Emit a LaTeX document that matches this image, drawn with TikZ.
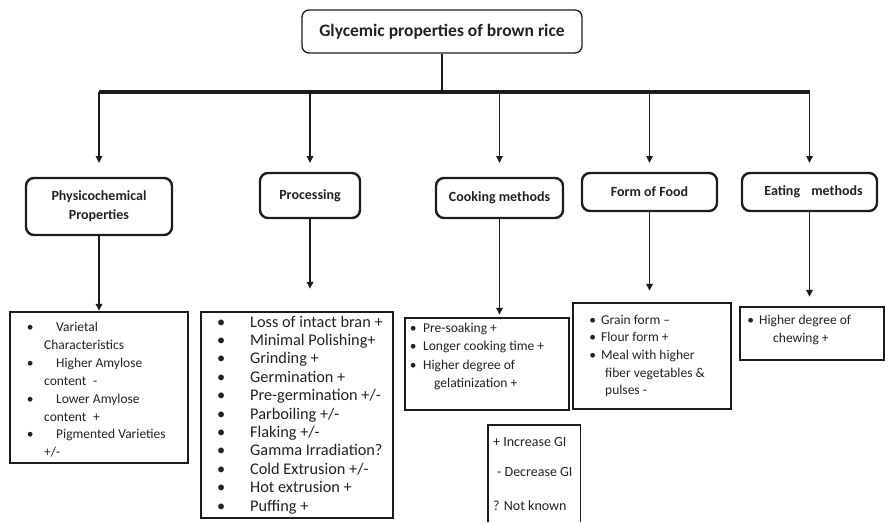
\documentclass[tikz,border=0pt]{standalone}
\usepackage{fontspec}
\setmainfont{Carlito}
\usetikzlibrary{arrows.meta}
\definecolor{ink}{HTML}{1C1C1C}
\definecolor{txt}{HTML}{222222}
% bullet hung to the left of the text start; #1 = gap between bullet and text
\newcommand\hangbullet[1]{\llap{\textbullet\hspace{#1}}}
\begin{document}
\begin{tikzpicture}[x=1pt,y=-1pt,
  every node/.style={inner sep=0pt,text=txt},
  rootbox/.style={draw=ink,line width=1.3pt,rounded corners=7pt,
    minimum width=280pt,minimum height=43pt,
    font=\fontsize{17.5}{21}\selectfont\bfseries},
  catbox/.style={draw=ink,line width=2.4pt,rounded corners=8pt,align=center,
    font=\fontsize{14}{19}\selectfont\bfseries},
  listbox/.style={draw=ink,line width=2.4pt},
  legendline/.style={draw=ink,line width=1.2pt},
  link/.style={draw=ink,line width=1.6pt},
  arr/.style={link,-{Triangle[length=7pt,width=6.5pt]}},
  trunkline/.style={draw=ink,line width=3.4pt},
  lineitem/.style={anchor=base west},
  smalltext/.style={font=\fontsize{13.5}{16}\selectfont},
  largetext/.style={font=\fontsize{16.3}{19}\selectfont},
  legendtext/.style={font=\fontsize{14}{16}\selectfont}
]
\useasboundingbox (0,0) rectangle (890,522);

% ---- root ----
\node[rootbox] (root) at (442,31.5) {Glycemic properties of brown rice};
\coordinate (trunk) at (0,92);
\coordinate (tip) at (0,163);

% ---- categories ----
\node[catbox,minimum width=146pt,minimum height=57pt] (phys) at (99,206.5) {Physicochemical\\Properties};
\node[catbox,minimum width=100pt,minimum height=45pt] (proc) at (310,195.5) {Processing};
\node[catbox,minimum width=127pt,minimum height=40pt] (cook) at (499.5,198) {Cooking methods};
\node[catbox,minimum width=135pt,minimum height=38pt] (form) at (649.5,192) {Form of Food};
\node[catbox,minimum width=135pt,minimum height=38pt,
      text width=127pt,align=center] (eat) at (809.5,192) {\hspace*{8pt}Eating\hspace{0.8em}methods};

% ---- branches from the root ----
\draw[link] (root.south) -- (root.south |- trunk);
\draw[trunkline] (phys.north |- trunk) -- (eat.north |- trunk);
\foreach \n in {phys,proc,cook,form,eat}
  \draw[arr] (\n.north |- trunk) -- (\n.north |- tip);

% ---- detail boxes ----
\node[listbox,minimum width=178pt,minimum height=151pt] (physList) at (99,387.5) {};
\node[listbox,minimum width=192pt,minimum height=206pt] (procList) at (297,415) {};
\node[listbox,minimum width=164pt,minimum height=92pt] (cookList) at (487,364) {};
\node[listbox,minimum width=158pt,minimum height=106pt] (formList) at (652,356) {};
\node[listbox,minimum width=144pt,minimum height=53pt] (eatList) at (812,333.5) {};

\draw[arr] (phys.south) -- (phys.south |- physList.north);
\draw[arr,shorten >=22pt] (proc.south) -- (proc.south |- procList.north);
\draw[arr,shorten >=2pt] (cook.south) -- (cook.south |- cookList.north);
\draw[arr,shorten >=11pt] (form.south) -- (form.south |- formList.north);
\draw[arr,shorten >=9pt] (eat.south) -- (eat.south |- eatList.north);

% ---- detail texts ----
\foreach \x/\t [count=\k from 0] in {
    56/{\hangbullet{22.5pt}Varietal},
    44/{Characteristics},
    56/{\hangbullet{22.5pt}Higher Amylose},
    44/{content\hspace{0.5em}-},
    56/{\hangbullet{22.5pt}Lower Amylose},
    44/{content\hspace{0.5em}+},
    56/{\hangbullet{22.5pt}Pigmented Varieties},
    44/{+/-}}
  \node[lineitem,smalltext] (physl\k) at (\x,331.5+17.9*\k) {\t};

\foreach \t [count=\k from 0] in {
    Loss of intact bran +, Minimal Polishing+, Grinding +, Germination +,
    Pre-germination +/-, Parboiling +/-, Flaking +/-, Gamma Irradiation?,
    Cold Extrusion +/-, Hot extrusion +, Puffing +}
  \node[lineitem,largetext] (procl\k) at (250,327+18.4*\k) {\hangbullet{25pt}\t};

\foreach \x/\t [count=\k from 0] in {
    423/{\hangbullet{6.5pt}Pre-soaking +},
    423/{\hangbullet{6.5pt}Longer cooking time +},
    423/{\hangbullet{6.5pt}Higher degree of},
    434/{gelatinization +}}
  \node[lineitem,smalltext] (cookl\k) at (\x,332+18.5*\k) {\t};

\foreach \x/\t [count=\k from 0] in {
    601/{\hangbullet{5pt}Grain form –},
    601/{\hangbullet{5pt}Flour form +},
    601/{\hangbullet{5pt}Meal with higher},
    605/{fiber vegetables \&},
    605/{pulses -}}
  \node[lineitem,smalltext] (forml\k) at (\x,324+17.7*\k) {\t};

\foreach \x/\t [count=\k from 0] in {
    759/{\hangbullet{5pt}Higher degree of},
    773/{chewing +}}
  \node[lineitem,smalltext] (eatl\k) at (\x,324+18*\k) {\t};

% ---- legend ----
\node[minimum width=92pt,minimum height=97pt,anchor=north west] (legend) at (488,425) {};
\draw[legendline] (legend.south west) |- (legend.north east) -- (legend.south east);
\node[lineitem,legendtext] (inc) at (493,446) {+ Increase GI};
\node[lineitem,legendtext] (dec) at (497,476) {- Decrease GI};
\node[lineitem,legendtext] (unk) at (493,510) {? Not known};
\end{tikzpicture}
\end{document}
